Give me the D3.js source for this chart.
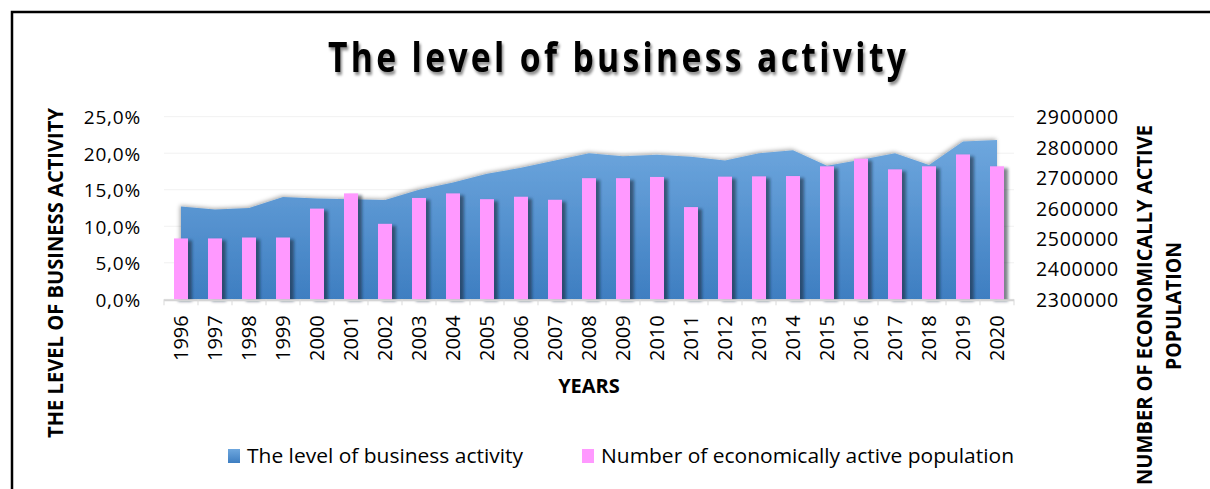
<!DOCTYPE html>
<html>
<head>
<meta charset="utf-8">
<script src="https://cdn.jsdelivr.net/npm/d3@7/dist/d3.min.js"></script>
<style>
  body { margin: 0; background: #fff; }
  svg { display: block; }
  text { font-family: 'Open Sans', 'Liberation Sans', sans-serif; fill: #000; }
</style>
</head>
<body>
<svg id="chart" width="1210" height="489"></svg>
<script>
// Years on the category axis
const years = ["1996","1997","1998","1999","2000","2001","2002","2003","2004","2005",
               "2006","2007","2008","2009","2010","2011","2012","2013","2014","2015",
               "2016","2017","2018","2019","2020"];

// Level of business activity, percent (left axis, area)
const activity = [12.7, 12.3, 12.5, 14.0, 13.8, 13.7, 13.6, 15.0, 16.0, 17.2,
                  18.0, 19.0, 20.0, 19.6, 19.8, 19.5, 19.0, 20.0, 20.4, 18.3,
                  19.1, 20.0, 18.4, 21.6, 21.8];

// Number of economically active population (right axis, columns)
const population = [2500000, 2500000, 2503000, 2503000, 2598000, 2648000, 2548000, 2633000, 2648000, 2629000,
                    2637000, 2627000, 2698000, 2698000, 2702000, 2603000, 2703000, 2704000, 2705000, 2737000,
                    2762000, 2727000, 2737000, 2776000, 2737000];

const activityTicks = [0, 5, 10, 15, 20, 25];
const populationTicks = [2300000, 2400000, 2500000, 2600000, 2700000, 2800000, 2900000];

const svg = d3.select("#chart");

// Frame
svg.append("rect")
  .attr("x", 12).attr("y", 12).attr("width", 1220).attr("height", 500)
  .attr("fill", "none").attr("stroke", "#000").attr("stroke-width", 2.5);

const defs = svg.append("defs");

const grad = defs.append("linearGradient")
  .attr("id", "areaFill").attr("x1", 0).attr("y1", 0).attr("x2", 0).attr("y2", 1);
grad.append("stop").attr("offset", "0%").attr("stop-color", "#6ea7de");
grad.append("stop").attr("offset", "100%").attr("stop-color", "#3e7ec1");

const legendGrad = defs.append("linearGradient")
  .attr("id", "legendFill").attr("x1", 0).attr("y1", 0).attr("x2", 0).attr("y2", 1);
legendGrad.append("stop").attr("offset", "0%").attr("stop-color", "#6ea7de");
legendGrad.append("stop").attr("offset", "100%").attr("stop-color", "#3e7ec1");

const areaShadow = defs.append("filter").attr("id", "areaShadow")
  .attr("x", "-5%").attr("y", "-20%").attr("width", "110%").attr("height", "140%");
areaShadow.append("feDropShadow")
  .attr("dx", -1).attr("dy", -1).attr("stdDeviation", 2.2)
  .attr("flood-color", "#000").attr("flood-opacity", 0.35);

const barShadow = defs.append("filter").attr("id", "barShadow")
  .attr("x", "-50%").attr("y", "-10%").attr("width", "250%").attr("height", "120%");
barShadow.append("feDropShadow")
  .attr("dx", 4).attr("dy", 2).attr("stdDeviation", 1.6)
  .attr("flood-color", "#0a1a33").attr("flood-opacity", 0.55);

const titleShadow = defs.append("filter").attr("id", "titleShadow")
  .attr("x", "-5%").attr("y", "-20%").attr("width", "110%").attr("height", "150%");
titleShadow.append("feDropShadow")
  .attr("dx", 2).attr("dy", 3).attr("stdDeviation", 1.5)
  .attr("flood-color", "#000").attr("flood-opacity", 0.45);

// Plot geometry
const plot = { left: 164, right: 1014, top: 116.7, bottom: 299.3 };

const x = d3.scaleBand().domain(years).range([plot.left, plot.right]).padding(0);
const yL = d3.scaleLinear().domain([0, 25]).range([plot.bottom, plot.top]);
const yR = d3.scaleLinear().domain([2300000, 2900000]).range([plot.bottom, plot.top]);
const cx = d => x(d) + x.bandwidth() / 2;

// Horizontal gridlines
svg.append("g").selectAll("line").data(activityTicks).join("line")
  .attr("x1", plot.left).attr("x2", plot.right)
  .attr("y1", d => yL(d)).attr("y2", d => yL(d))
  .attr("stroke", "#f1f1f1").attr("stroke-width", 1);

// Area: level of business activity
const area = d3.area()
  .x((d, i) => cx(years[i]))
  .y0(yL(0))
  .y1(d => yL(d))
  .curve(d3.curveLinear);

svg.append("path")
  .datum(activity)
  .attr("d", area)
  .attr("fill", "url(#areaFill)")
  .attr("filter", "url(#areaShadow)");

// Columns: economically active population
const barW = 14;
svg.append("g").selectAll("rect").data(population).join("rect")
  .attr("x", (d, i) => cx(years[i]) - barW / 2)
  .attr("width", barW)
  .attr("y", d => yR(d))
  .attr("height", d => yR(2300000) - yR(d))
  .attr("fill", "#ff99ff")
  .attr("filter", "url(#barShadow)");

// Category axis line with ticks between categories
const xAxisG = svg.append("g");
xAxisG.append("line")
  .attr("x1", plot.left).attr("x2", plot.right)
  .attr("y1", plot.bottom + 1).attr("y2", plot.bottom + 1)
  .attr("stroke", "#d4d4d4").attr("stroke-width", 2);
xAxisG.selectAll("line.tick").data(years.concat(["end"])).join("line")
  .attr("class", "tick")
  .attr("x1", (d, i) => plot.left + i * x.step()).attr("x2", (d, i) => plot.left + i * x.step())
  .attr("y1", plot.bottom).attr("y2", plot.bottom + 6)
  .attr("stroke", "#d9d9d9").attr("stroke-width", 1);

// Year labels
const xAxis = d3.axisBottom(x).tickSize(0).tickPadding(0);
const xg = svg.append("g").attr("transform", `translate(0,${plot.bottom})`).call(xAxis);
xg.select(".domain").remove();
xg.selectAll("text")
  .attr("transform", "rotate(-90)")
  .attr("text-anchor", "end")
  .attr("x", -16).attr("y", 0).attr("dy", "0.36em")
  .style("font-size", "20px")
  .style("font-family", "'Open Sans', sans-serif")
  .attr("fill", "#000");

// Left axis: percentages
const fmtPct = d => d3.format(".1f")(d).replace(".", ",") + "%";
const yLAxis = d3.axisLeft(yL).tickValues(activityTicks).tickFormat(fmtPct).tickSize(0).tickPadding(0);
const ylg = svg.append("g").attr("transform", "translate(141,0)").call(yLAxis);
ylg.select(".domain").remove();
ylg.selectAll("text")
  .attr("dy", "0.36em")
  .style("font-size", "19px")
  .style("letter-spacing", "0.8px")
  .style("font-family", "'Open Sans', sans-serif")
  .attr("fill", "#000");

// Right axis: population counts
const yRAxis = d3.axisRight(yR).tickValues(populationTicks).tickFormat(d3.format("d")).tickSize(0).tickPadding(0);
const yrg = svg.append("g").attr("transform", "translate(1036,0)").call(yRAxis);
yrg.select(".domain").remove();
yrg.selectAll("text")
  .attr("dy", "0.36em")
  .style("font-size", "19.5px")
  .style("letter-spacing", "0.7px")
  .style("font-family", "'Open Sans', sans-serif")
  .attr("fill", "#000");

// Title: condensed bold glyphs with open letter spacing
const titleScale = 0.82;
svg.append("g")
  .attr("transform", `translate(617,72) scale(${titleScale},1)`)
  .append("text")
  .attr("x", 0).attr("y", 0)
  .attr("text-anchor", "middle")
  .attr("textLength", 578 / titleScale).attr("lengthAdjust", "spacing")
  .style("font-size", "41px").style("font-weight", "700")
  .attr("filter", "url(#titleShadow)")
  .text("The level of business activity");

// Axis titles
svg.append("text")
  .attr("x", 589).attr("y", 393)
  .attr("text-anchor", "middle")
  .style("font-size", "20px").style("font-weight", "700")
  .text("YEARS");

svg.append("text")
  .attr("transform", "translate(63,273) rotate(-90)")
  .attr("text-anchor", "middle")
  .attr("textLength", 330).attr("lengthAdjust", "spacingAndGlyphs")
  .style("font-size", "21px").style("font-weight", "700")
  .text("THE LEVEL OF BUSINESS ACTIVITY");

svg.append("text")
  .attr("transform", "translate(1152,305) rotate(-90)")
  .attr("text-anchor", "middle")
  .attr("textLength", 360).attr("lengthAdjust", "spacingAndGlyphs")
  .style("font-size", "21px").style("font-weight", "700")
  .text("NUMBER OF ECONOMICALLY  ACTIVE");

svg.append("text")
  .attr("transform", "translate(1181,306) rotate(-90)")
  .attr("text-anchor", "middle")
  .attr("textLength", 128).attr("lengthAdjust", "spacingAndGlyphs")
  .style("font-size", "21px").style("font-weight", "700")
  .text("POPULATION");

// Legend
const legendItems = [
  { label: "The level of business activity", fill: "url(#legendFill)", sx: 228, tx: 247, tw: 276 },
  { label: "Number of economically active population", fill: "#ff99ff", sx: 582, tx: 601, tw: 413 }
];
const lg = svg.append("g");
lg.selectAll("rect").data(legendItems).join("rect")
  .attr("x", d => d.sx).attr("y", 449).attr("width", 12).attr("height", 14)
  .attr("fill", d => d.fill);
lg.selectAll("text").data(legendItems).join("text")
  .attr("x", d => d.tx).attr("y", 456).attr("dy", "0.36em")
  .attr("textLength", d => d.tw).attr("lengthAdjust", "spacingAndGlyphs")
  .style("font-size", "20px")
  .text(d => d.label);
</script>
</body>
</html>
